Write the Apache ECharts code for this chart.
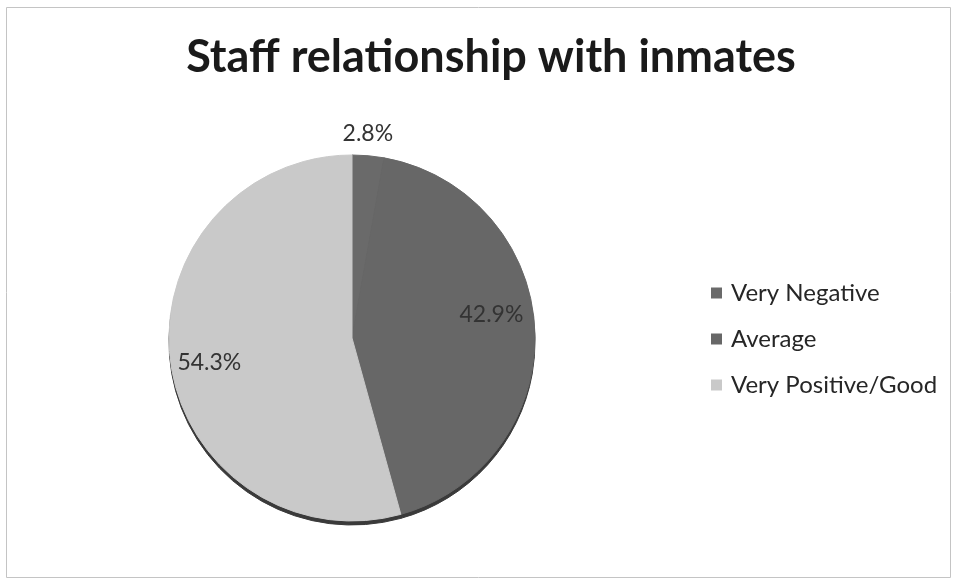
<!DOCTYPE html>
<html>
<head>
<meta charset="utf-8">
<script src="https://cdn.jsdelivr.net/npm/echarts@6/dist/echarts.min.js"></script>
<style>
  html, body { margin: 0; padding: 0; background: #fff; }
  #chart { width: 957px; height: 583px; }
</style>
</head>
<body>
<div id="chart"></div>
<script>
// Survey responses: how staff relate to inmates (percent of respondents)
const categories = ['Very Negative', 'Average', 'Very Positive/Good'];
const shares = [2.8, 42.9, 54.3];
const sliceColors = ['#6a6a6a', '#676767', '#c9c9c9'];

const FONT = 'Lato, "Open Sans", sans-serif';

// per-slice label tweaks (offsets from the default label spot)
const labelTweaks = [
  { position: 'outside', dx: -31, dy: -16 },
  { position: 'inside', dx: 45, dy: -19 },
  { position: 'inside', dx: -49, dy: 12 }
];

// each slice is stroked in its own colour so no seam shows between neighbours
const faceData = categories.map((name, i) => ({
  name,
  value: shares[i],
  itemStyle: { color: sliceColors[i], borderColor: sliceColors[i], borderWidth: 1 },
  label: { position: labelTweaks[i].position }
}));

// darker copy of the pie sitting slightly lower gives the thin rim at the bottom
const rimData = categories.map((name, i) => ({ name, value: shares[i] }));

const chart = echarts.init(document.getElementById('chart'), null, { renderer: 'canvas' });

chart.setOption({
  backgroundColor: '#ffffff',
  animation: false,
  title: {
    text: 'Staff relationship with inmates',
    left: 486,
    top: 30,
    textAlign: 'center',
    textStyle: { fontFamily: FONT, fontWeight: 'bold', fontSize: 45, color: '#1a1a1a' }
  },
  legend: {
    orient: 'vertical',
    left: 706,
    top: 276,
    itemWidth: 11,
    itemHeight: 11,
    itemGap: 22,
    icon: 'rect',
    data: categories.map((name, i) => ({ name, itemStyle: { color: sliceColors[i], borderWidth: 0 } })),
    textStyle: { fontFamily: FONT, fontSize: 24, color: '#262626', padding: [0, 0, 0, 4] }
  },
  graphic: [{
    type: 'rect',
    silent: true,
    z: -10,
    shape: { x: 6.5, y: 7.5, width: 944, height: 570 },
    style: { fill: 'none', stroke: '#c4c4c4', lineWidth: 1 }
  }],
  series: [
    {
      type: 'pie',
      silent: true,
      z: 1,
      center: [352, 342],
      radius: [0, 183],
      startAngle: 90,
      clockwise: true,
      data: rimData,
      itemStyle: { color: '#3a3a3a', borderColor: '#3a3a3a', borderWidth: 1 },
      label: { show: false },
      labelLine: { show: false },
      legendHoverLink: false
    },
    {
      type: 'pie',
      name: 'Staff relationship',
      z: 2,
      center: [352, 338],
      radius: [0, 183],
      startAngle: 90,
      clockwise: true,
      avoidLabelOverlap: false,
      data: faceData,
      label: {
        show: true,
        formatter: p => p.value.toFixed(1) + '%',
        fontFamily: FONT,
        fontSize: 23,
        color: '#333333'
      },
      labelLine: { show: false, length: 6, length2: 0 },
      labelLayout: function (params) {
        const t = labelTweaks[params.dataIndex];
        return { dx: t.dx, dy: t.dy };
      },
      emphasis: { disabled: true }
    }
  ]
});
</script>
</body>
</html>
